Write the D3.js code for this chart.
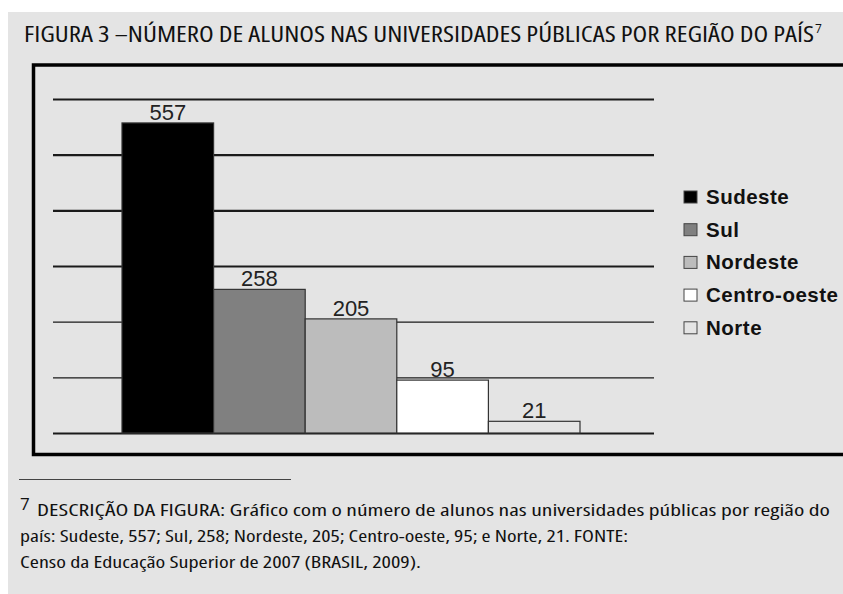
<!DOCTYPE html>
<html>
<head>
<meta charset="utf-8">
<script src="https://cdn.jsdelivr.net/npm/d3@7"></script>
<style>
  html, body { margin: 0; padding: 0; background: #fff; }
  svg { display: block; }
</style>
</head>
<body>
<div id="chart"></div>
<script>
// data
var regions = ["Sudeste", "Sul", "Nordeste", "Centro-oeste", "Norte"];
var students = [557, 258, 205, 95, 21];
var gridValues = [0, 100, 200, 300, 400, 500, 600];

var titleText = "FIGURA 3 \u2013NÚMERO DE ALUNOS NAS UNIVERSIDADES PÚBLICAS POR REGIÃO DO PAÍS";
var noteLines = [
  "DESCRIÇÃO DA FIGURA: Gráfico com o número de alunos nas universidades públicas por região do",
  "país: Sudeste, 557; Sul, 258; Nordeste, 205; Centro-oeste, 95; e Norte, 21. FONTE:",
  "Censo da Educação Superior de 2007 (BRASIL, 2009)."
];

var W = 843, H = 594;
var bg = "#e4e4e4";
var narrow = "'Liberation Sans Narrow', 'Open Sans', 'Noto Sans', sans-serif";
var arial = "'Liberation Sans', Arial, sans-serif";

var svg = d3.select("#chart").append("svg")
  .attr("width", W)
  .attr("height", H);

// page background
svg.append("rect")
  .attr("x", 8).attr("y", 12)
  .attr("width", W - 8).attr("height", H - 12)
  .attr("fill", bg);

// title
svg.append("text")
  .attr("x", 24).attr("y", 42)
  .attr("font-family", narrow)
  .style("font-stretch", "75%")
  .attr("font-size", 21)
  .attr("fill", "#111")
  .attr("textLength", 790)
  .attr("lengthAdjust", "spacingAndGlyphs")
  .text(titleText);
svg.append("text")
  .attr("x", 815).attr("y", 33)
  .attr("font-family", narrow)
  .attr("font-size", 12)
  .attr("fill", "#111")
  .text("7");

// chart frame
svg.append("rect")
  .attr("x", 33.5).attr("y", 65)
  .attr("width", 830).attr("height", 389.5)
  .attr("fill", "none")
  .attr("stroke", "#000")
  .attr("stroke-width", 3.5);

var x = d3.scaleBand()
  .domain(regions)
  .range([122, 580])
  .padding(0);

var y = d3.scaleLinear()
  .domain([0, 600])
  .range([433, 99]);

var color = d3.scaleOrdinal()
  .domain(regions)
  .range(["#000000", "#808080", "#bcbcbc", "#ffffff", bg]);

// gridlines
var grid = svg.append("g")
  .attr("transform", "translate(53,0)")
  .call(d3.axisLeft(y)
    .tickValues(gridValues)
    .tickSize(-601)
    .tickFormat(""));
grid.select(".domain").remove();
grid.selectAll(".tick line")
  .attr("stroke", "#1a1a1a")
  .attr("stroke-width", function (d) { return d === 100 || d === 200 ? 1.4 : 2.2; });

// bars
var data = regions.map(function (r, i) { return { region: r, value: students[i] }; });

svg.append("g")
  .selectAll("rect")
  .data(data)
  .enter()
  .append("rect")
  .attr("x", function (d) { return x(d.region); })
  .attr("y", function (d) { return y(d.value); })
  .attr("width", x.bandwidth())
  .attr("height", function (d) { return y(0) - y(d.value); })
  .attr("fill", function (d) { return color(d.region); })
  .attr("stroke", "#333")
  .attr("stroke-width", 1.2);

// value labels
svg.append("g")
  .selectAll("text")
  .data(data)
  .enter()
  .append("text")
  .attr("x", function (d) { return x(d.region) + x.bandwidth() / 2; })
  .attr("y", function (d) { return y(d.value) - 3; })
  .attr("text-anchor", "middle")
  .attr("font-family", arial)
  .attr("font-size", 22)
  .attr("fill", "#222")
  .text(function (d) { return d.value; });

// legend
var legend = svg.append("g")
  .selectAll("g")
  .data(regions)
  .enter()
  .append("g")
  .attr("transform", function (d, i) { return "translate(684," + (191 + i * 32.7) + ")"; });

legend.append("rect")
  .attr("width", 13)
  .attr("height", 12)
  .attr("fill", function (d) { return color(d); })
  .attr("stroke", "#444")
  .attr("stroke-width", 1);

legend.append("text")
  .attr("x", 22)
  .attr("y", 13)
  .attr("font-family", arial)
  .attr("font-weight", "bold")
  .attr("font-size", 20.5)
  .attr("letter-spacing", 0.5)
  .attr("fill", "#111")
  .text(function (d) { return d; });

// footnote
svg.append("line")
  .attr("x1", 19).attr("x2", 291)
  .attr("y1", 479.5).attr("y2", 479.5)
  .attr("stroke", "#444")
  .attr("stroke-width", 1);

svg.append("text")
  .attr("x", 20).attr("y", 510)
  .attr("font-family", narrow)
  .attr("font-size", 17)
  .attr("fill", "#111")
  .text("7");

var noteStart = [37, 20, 20];
var noteEnd = [830, 628, 421];
svg.append("g")
  .selectAll("text")
  .data(noteLines)
  .enter()
  .append("text")
  .attr("x", function (d, i) { return noteStart[i]; })
  .attr("y", function (d, i) { return 516 + i * 26; })
  .attr("font-family", narrow)
  .style("font-stretch", "75%")
  .attr("font-size", 17)
  .attr("fill", "#111")
  .attr("textLength", function (d, i) { return noteEnd[i] - noteStart[i]; })
  .attr("lengthAdjust", "spacingAndGlyphs")
  .text(function (d) { return d; });
</script>
</body>
</html>
